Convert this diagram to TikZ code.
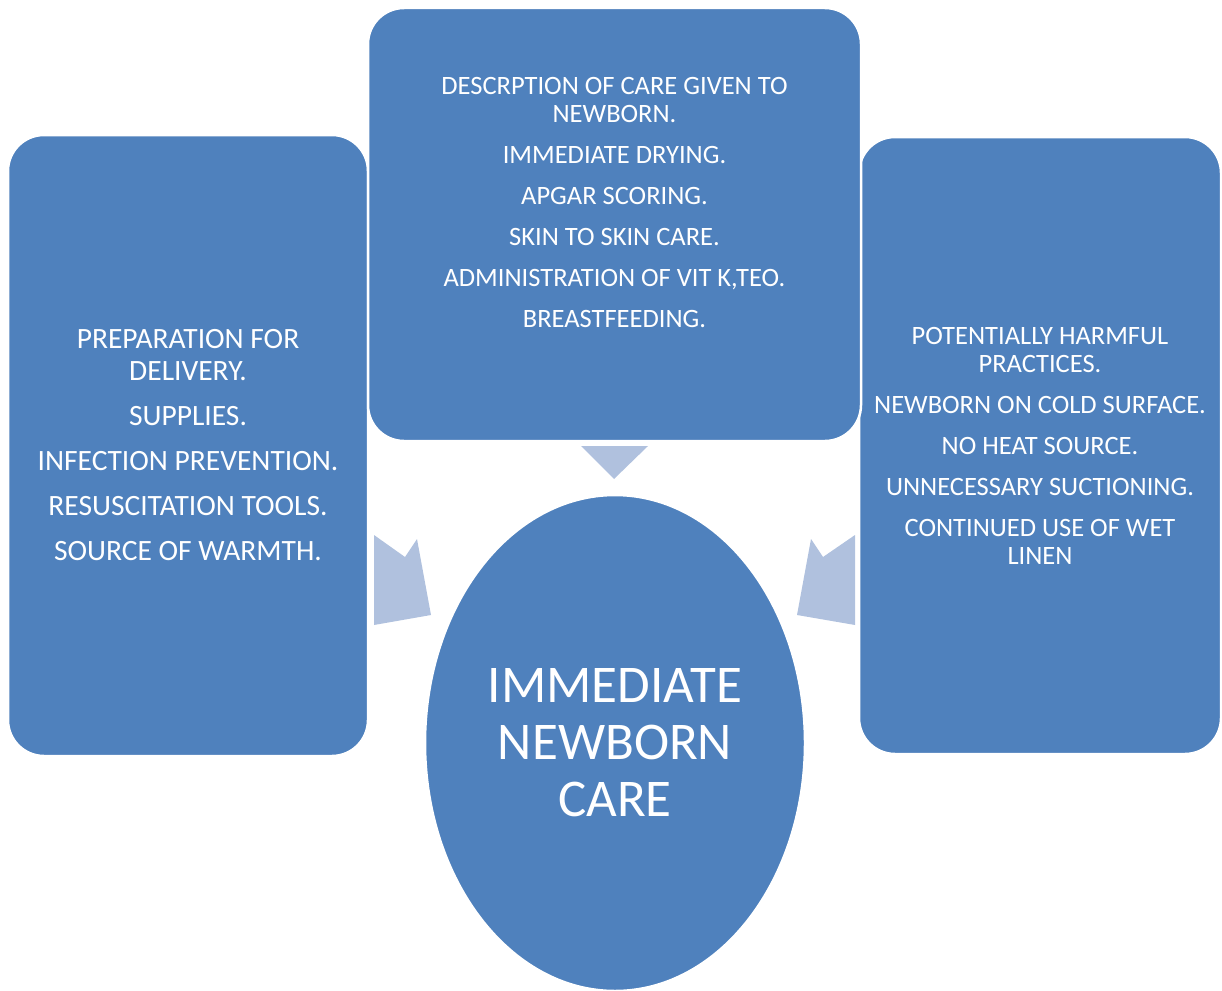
\documentclass[tikz,border=0pt]{standalone}
\usepackage{fontspec}
\setmainfont{Carlito}
\usepackage{tikz}
\usetikzlibrary{positioning,shapes.geometric}
\definecolor{careblue}{HTML}{4F81BD}
\definecolor{carelight}{HTML}{B0C1DE}
\tikzset{
    carebox/.style={draw=white, line width=2.5pt, fill=careblue, rounded corners=36pt, inner sep=0pt, text=white, align=center},
    careoval/.style={draw=white, line width=2.5pt, fill=careblue, ellipse, inner sep=0pt, minimum width=380pt, minimum height=496pt, text=white, align=center, font=\fontsize{53}{57}\selectfont},
    caretext/.style={text=white, align=center, font=\fontsize{26.5}{28}\selectfont},
    carearrow/.style={fill=carelight, draw=none}
}

\begin{document}
\begin{tikzpicture}[x=1pt, y=-1pt]
    \useasboundingbox (0,0) rectangle (1222,990);
    \node[carebox, minimum width=360pt, minimum height=621pt, font=\fontsize{29.5}{32}\selectfont] (prep) at (188,445.5)
        {PREPARATION FOR\\DELIVERY.\\[13pt]SUPPLIES.\\[13pt]INFECTION PREVENTION.\\[13pt]RESUSCITATION TOOLS.\\[13pt]SOURCE OF WARMTH.};
    \node[carebox, minimum width=362pt, minimum height=617pt, font=\fontsize{26.5}{28}\selectfont] (harm) at (1040,445.5)
        {POTENTIALLY HARMFUL\\PRACTICES.\\[13pt]NEWBORN ON COLD SURFACE.\\[13pt]NO HEAT SOURCE.\\[13pt]UNNECESSARY SUCTIONING.\\[13pt]CONTINUED USE OF WET\\LINEN};
    \node[carebox, minimum width=493pt, minimum height=433pt] (care) at (614.5,224.5) {};
    \node[caretext] (careText) at ([yshift=21.5pt]care.center)
        {DESCRPTION OF CARE GIVEN TO\\NEWBORN.\\[13pt]IMMEDIATE DRYING.\\[13pt]APGAR SCORING.\\[13pt]SKIN TO SKIN CARE.\\[13pt]ADMINISTRATION OF VIT K,TEO.\\[13pt]BREASTFEEDING.};
    \node[careoval] (newborn) at (615,743) {IMMEDIATE\\NEWBORN\\CARE};

    % block arrows into the oval
    \fill[carearrow] (581,446) -- (648,446) -- (614,479) -- cycle;
    \fill[carearrow] (374,535) -- (405,557) -- (417,539) -- (431,615) -- (374,625) -- cycle;
    \fill[carearrow] (811,539) -- (823,557) -- (855,535) -- (855,625) -- (797,615) -- cycle;
\end{tikzpicture}
\end{document}
